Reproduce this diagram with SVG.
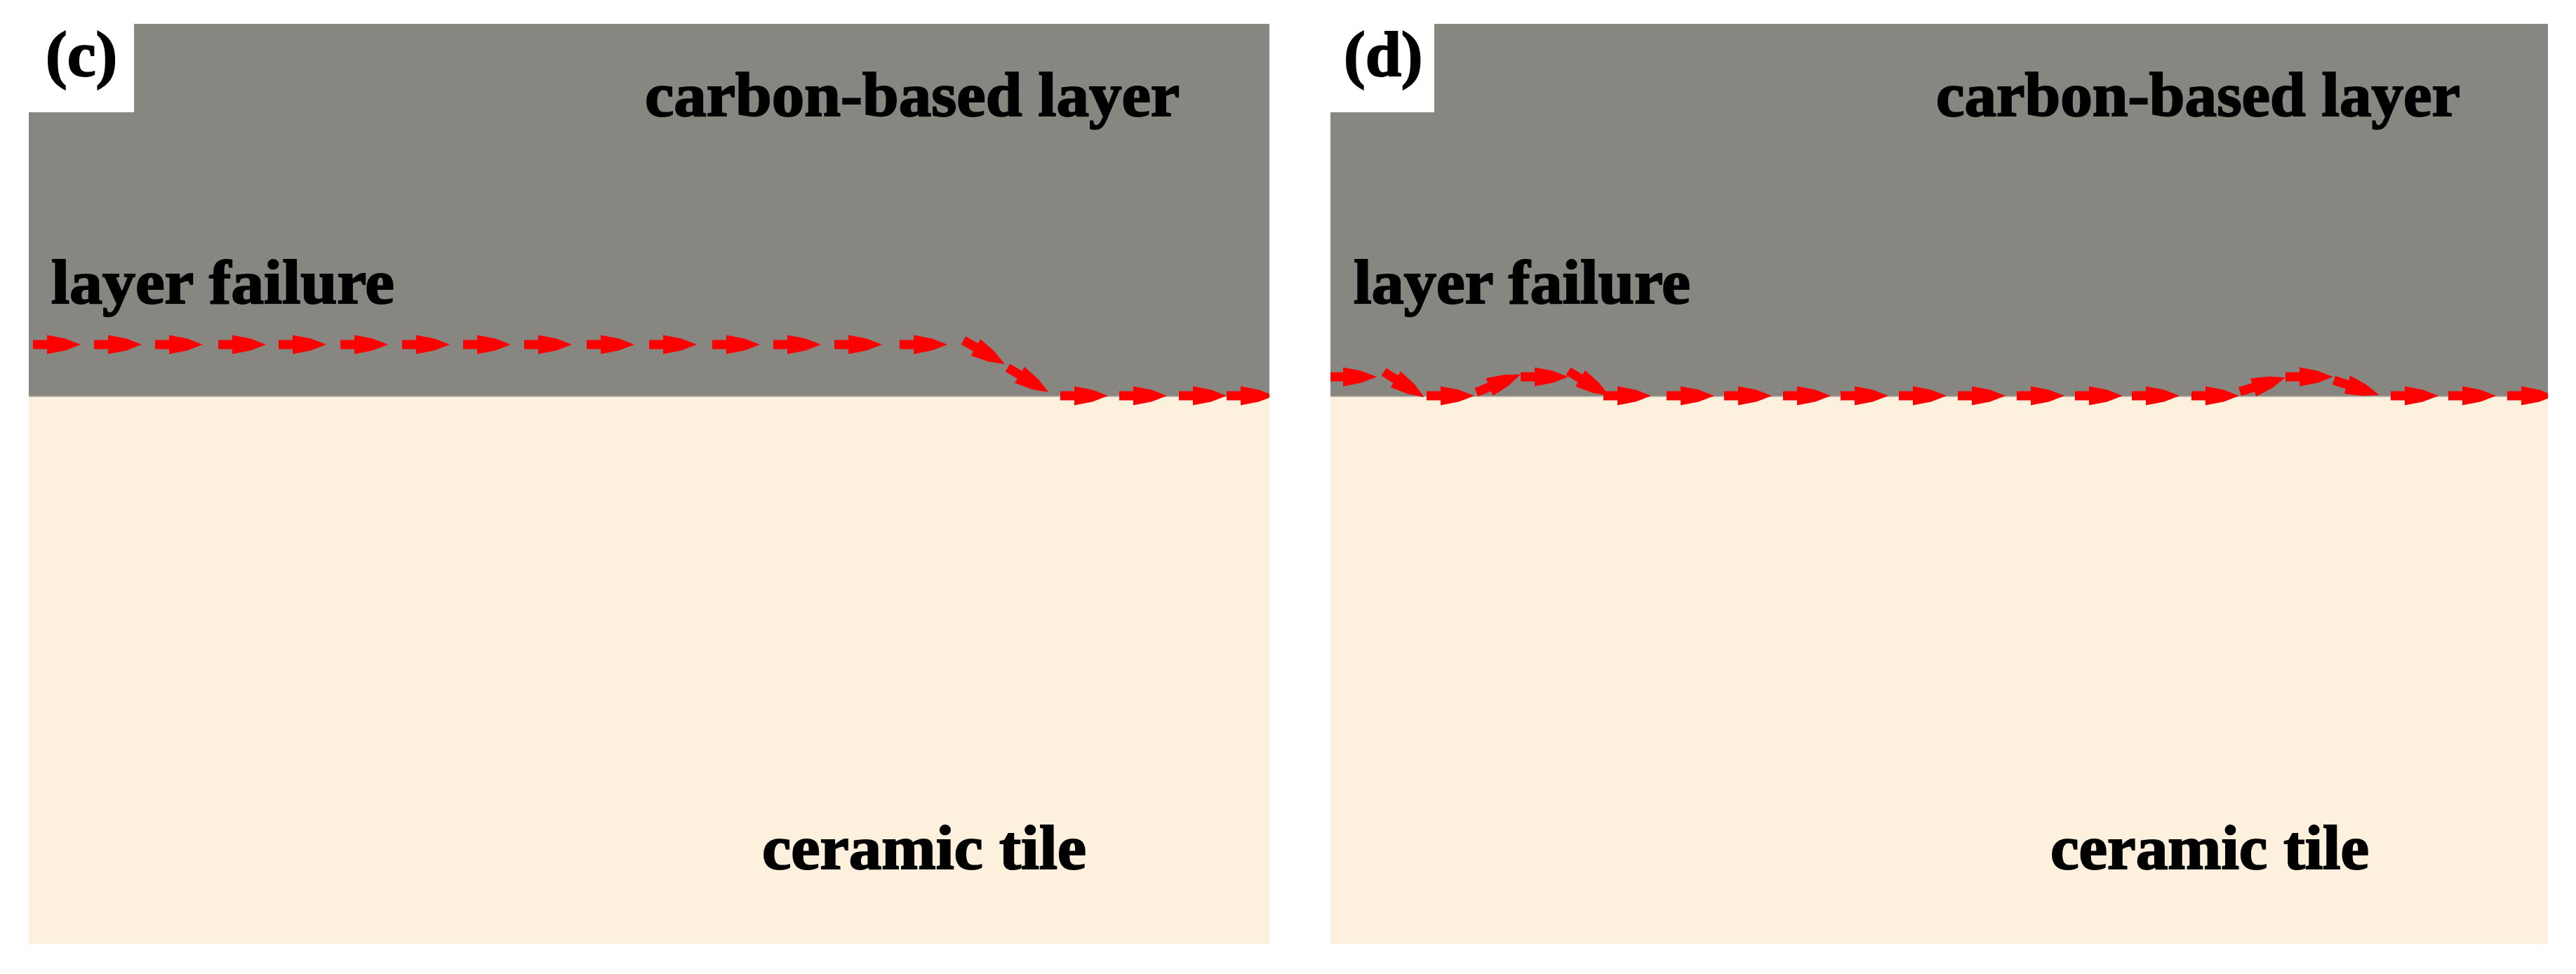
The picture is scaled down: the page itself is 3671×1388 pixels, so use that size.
<svg xmlns="http://www.w3.org/2000/svg" width="3671" height="1388" viewBox="0 0 3671 1388">
<style>
.upper{fill:#888681}
.lower{fill:#fdf1de}
.seam{fill:#c9c3b8}
.notch{fill:#ffffff}
.t{font-family:"Liberation Serif","Times New Roman",serif;font-weight:700;font-size:88px;fill:#000000;stroke:#000000;stroke-width:2px}
.p{font-size:92px}
</style>
<defs>
<polygon id="a" points="0,-6.5 20,-6.5 20,-13.5 46,-8.5 68,0 46,8.5 20,13.5 20,6.5 0,6.5" fill="#ff0000"/>
<clipPath id="clipC"><rect x="41" y="34" width="1768" height="1311"/></clipPath>
<clipPath id="clipD"><rect x="1896" y="34" width="1735" height="1311"/></clipPath>
</defs>
<rect width="3671" height="1388" fill="#ffffff"/>
<g id="panel-c">
<rect class="upper" x="41" y="34" width="1768" height="531"/>
<rect class="lower" x="41" y="565" width="1768" height="780"/>
<rect class="seam" x="41" y="564.5" width="1768" height="1.5"/>
<rect class="notch" x="41" y="34" width="150" height="126"/>
<text class="t p" x="65" y="108">(c)</text>
<text class="t" x="919" y="165" textLength="762" lengthAdjust="spacingAndGlyphs">carbon-based layer</text>
<text class="t" x="73" y="432" textLength="489" lengthAdjust="spacingAndGlyphs">layer failure</text>
<text class="t" x="1086" y="1238" textLength="462" lengthAdjust="spacingAndGlyphs">ceramic tile</text>
</g>
<g id="panel-d">
<rect class="upper" x="1896" y="34" width="1735" height="531"/>
<rect class="lower" x="1896" y="565" width="1735" height="780"/>
<rect class="seam" x="1896" y="564.5" width="1735" height="1.5"/>
<rect class="notch" x="1896" y="34" width="148" height="126"/>
<text class="t p" x="1915" y="108">(d)</text>
<text class="t" x="2759" y="165" textLength="747" lengthAdjust="spacingAndGlyphs">carbon-based layer</text>
<text class="t" x="1929" y="432" textLength="480" lengthAdjust="spacingAndGlyphs">layer failure</text>
<text class="t" x="2922" y="1238" textLength="454" lengthAdjust="spacingAndGlyphs">ceramic tile</text>
</g>
<g id="connectors">
<g id="path-c" clip-path="url(#clipC)">
<use href="#a" x="47" y="491"/>
<use href="#a" x="134" y="491"/>
<use href="#a" x="221" y="491"/>
<use href="#a" x="311" y="491"/>
<use href="#a" x="397" y="491"/>
<use href="#a" x="485" y="491"/>
<use href="#a" x="573" y="491"/>
<use href="#a" x="660" y="491"/>
<use href="#a" x="747" y="491"/>
<use href="#a" x="836" y="491"/>
<use href="#a" x="925" y="491"/>
<use href="#a" x="1015" y="491"/>
<use href="#a" x="1102" y="491"/>
<use href="#a" x="1189" y="491"/>
<use href="#a" x="1282" y="491"/>
<use href="#a" transform="translate(1373 485) rotate(30)"/>
<use href="#a" transform="translate(1436 524) rotate(31)"/>
<use href="#a" x="1511" y="564"/>
<use href="#a" x="1595" y="564"/>
<use href="#a" x="1680" y="564"/>
<use href="#a" x="1748" y="564"/>
</g>
<g id="path-d" clip-path="url(#clipD)">
<use href="#a" x="1894" y="537"/>
<use href="#a" transform="translate(1972 530) rotate(32)"/>
<use href="#a" x="2033" y="564"/>
<use href="#a" transform="translate(2104 559) rotate(-22)"/>
<use href="#a" x="2167" y="537"/>
<use href="#a" transform="translate(2235 529) rotate(31)"/>
<use href="#a" x="2285" y="564"/>
<use href="#a" x="2375" y="564"/>
<use href="#a" x="2457" y="564"/>
<use href="#a" x="2541" y="564"/>
<use href="#a" x="2623" y="564"/>
<use href="#a" x="2706" y="564"/>
<use href="#a" x="2790" y="564"/>
<use href="#a" x="2874" y="564"/>
<use href="#a" x="2957" y="564"/>
<use href="#a" x="3038" y="564"/>
<use href="#a" x="3123" y="564"/>
<use href="#a" transform="translate(3192 558) rotate(-17)"/>
<use href="#a" x="3257" y="537"/>
<use href="#a" transform="translate(3326 542) rotate(18)"/>
<use href="#a" x="3407" y="564"/>
<use href="#a" x="3489" y="564"/>
<use href="#a" x="3573" y="564"/>
</g>
</g>
</svg>
